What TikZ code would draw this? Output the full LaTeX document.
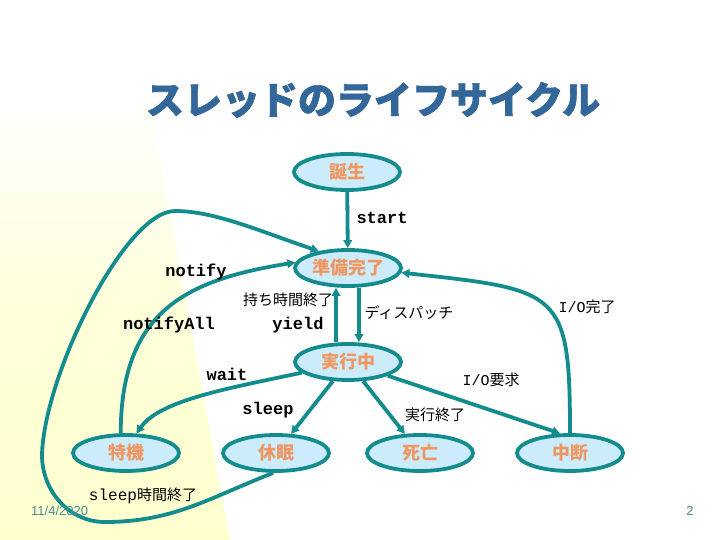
\documentclass[tikz,border=0pt]{standalone}
\usepackage{fontspec}
\setmainfont{Noto Sans CJK JP}
\newfontfamily\jp{Noto Sans CJK JP}
\newfontfamily\jph{Noto Sans CJK JP}[BoldFeatures={FakeBold=1.5}]
\newfontfamily\mono{Liberation Mono}
\newfontfamily\arialf{Liberation Sans}
\usetikzlibrary{shapes.geometric,arrows.meta}
\definecolor{lineteal}{RGB}{20,140,142}
\definecolor{nodefill}{RGB}{204,236,252}
\definecolor{nodetext}{RGB}{240,150,96}
\definecolor{titleblue}{RGB}{51,102,153}
\definecolor{footc}{RGB}{70,140,150}
\definecolor{bgyellow}{RGB}{255,255,206}
\begin{document}
\begin{tikzpicture}[x=1pt,y=-1pt,
  state/.style={ellipse, draw=lineteal, line width=3.8pt, fill=nodefill,
    minimum width=106pt, minimum height=36pt, inner sep=0pt, text=nodetext,
    font=\jp\bfseries\fontsize{18}{18}\selectfont},
  conn/.style={draw=lineteal, line width=3.8pt, -{Triangle[length=8pt,width=8.5pt]}},
  cmd/.style={font=\mono\bfseries\fontsize{17}{17}\selectfont, inner sep=0pt},
  jlab/.style={font=\jp\fontsize{15}{15}\selectfont, inner sep=0pt},
]
\useasboundingbox (0,0) rectangle (720,540);
\fill[white] (0,0) rectangle (720,540);
\shade[top color=white, bottom color=bgyellow, middle color=bgyellow!75] (0,90) -- (147,90) -- (230,540) -- (0,540) -- cycle;

% title
\node[font=\jph\bfseries\fontsize{38}{38}\selectfont, text=titleblue] (title) at (373,100) {スレッドのライフサイクル};

% states
\node[state] (birth) at (347,172) {誕生};
\node[state] (ready) at (348,268) {準備完了};
\node[state] (run)   at (348,362) {実行中};
\node[state] (wait)  at (126,453) {特機};
\node[state] (sleep) at (276,453) {休眠};
\node[state] (dead)  at (420,453) {死亡};
\node[state] (susp)  at (570,453) {中断};

% connectors
\draw[conn] (birth) -- (ready);
\draw[conn] ([xshift=-12pt]run.north) -- ([xshift=-12pt]ready.south);
\draw[conn] ([xshift=11pt]ready.south) -- ([xshift=11pt]run.north);
\draw[conn] (run.193) .. controls (230,388) and (160,400) .. (wait.62);
\draw[conn] (run) -- (sleep);
\draw[conn] (run) -- (dead);
\draw[conn] (run.-19) -- (susp.117);
\draw[conn] (susp.north) .. controls (570,290) and (560,290) .. (ready.-5);
\draw[conn] (wait.105) .. controls (121,312) and (185,280) .. (ready.174);
\draw[conn] (sleep.262) .. controls (209,498) and (173,522) .. (105,522)
  .. controls (69,522) and (42,491) .. (42,455)
  .. controls (44,375) and (125,211) .. (175,211)
  .. controls (215,211) and (262,232) .. (ready.150);

% labels
\node[cmd] (lstart) at (382,218) {start};
\node[cmd] (lnotify) at (196,272) {notify};
\node[cmd] (lnotifyall) at (169,325) {notifyAll};
\node[jlab] (ltime) at (288,300) {持ち時間終了};
\node[cmd] (lyield) at (298,325) {yield};
\node[jlab] (ldisp) at (409,313) {ディスパッチ};
\node[jlab] (liodone) at (587,307) {{\mono\fontsize{15}{15}\selectfont I/O}完了};
\node[cmd] (lwait) at (227,374) {wait};
\node[jlab] (lioreq) at (491,380) {{\mono\fontsize{15}{15}\selectfont I/O}要求};
\node[cmd] (lsleep) at (268,410) {sleep};
\node[jlab] (lend) at (435,415) {実行終了};
\node[jlab] (lsleepend) at (143,496) {{\mono\fontsize{16}{16}\selectfont sleep}時間終了};

% footer
\node[font=\arialf\fontsize{13}{13}\selectfont, text=footc, anchor=west, inner sep=0pt] (date) at (31,511) {11/4/2020};
\node[font=\arialf\fontsize{13}{13}\selectfont, text=footc, inner sep=0pt] (page) at (690,511) {2};
\end{tikzpicture}
\end{document}
